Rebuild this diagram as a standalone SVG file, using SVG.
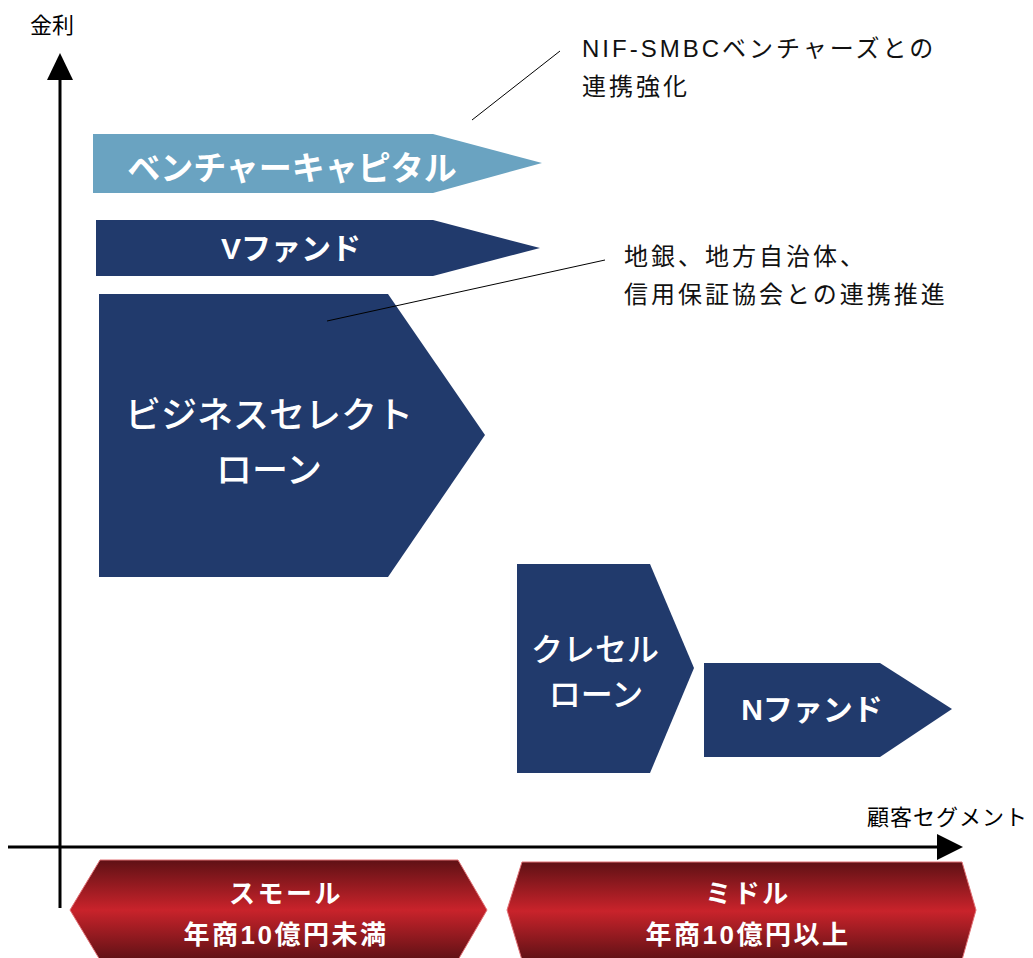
<svg xmlns="http://www.w3.org/2000/svg" width="1033" height="958" viewBox="0 0 1033 958">
<defs>
<linearGradient id="red" x1="0" y1="0" x2="0" y2="1">
<stop offset="0" stop-color="#5f1115"/>
<stop offset="0.5" stop-color="#c9232b"/>
<stop offset="1" stop-color="#5f1115"/>
</linearGradient>
<style>
.t{font-family:"Liberation Sans","Noto Sans CJK JP",sans-serif}
.lab{font-size:22px;fill:#000}
.note{font-size:24px;fill:#111;letter-spacing:3px}
.navy{fill:#213a6c}
.lb{fill:#6aa3c1}
.w{fill:#fff;text-anchor:middle}
.b{font-weight:bold}
.ax{stroke:#000;stroke-width:3;fill:none}
.call{stroke:#000;stroke-width:1;fill:none}
.hex{fill:url(#red);stroke:#e07075;stroke-width:1}
</style>
</defs>
<rect width="1033" height="958" fill="#fff"/>
<g id="axes">
<line class="ax" x1="60" y1="908" x2="60" y2="76"/>
<polygon points="60,53 73,80 47,80" fill="#000"/>
<line class="ax" x1="8" y1="847" x2="940" y2="847"/>
<polygon points="963,847 937,834 937,860" fill="#000"/>
<text class="t lab" x="30" y="33">金利</text>
<text class="t lab" x="867" y="825" style="letter-spacing:1px">顧客セグメント</text>
</g>
<g id="venture-capital">
<polygon class="lb" points="93,134 433,134 542,163 433,193 93,193"/>
<text class="t w b" x="292" y="180" font-size="33">ベンチャーキャピタル</text>
</g>
<g id="v-fund">
<polygon class="navy" points="96,220 433,220 540,248 433,276 96,276"/>
<text class="t w b" x="291" y="259" font-size="30">Vファンド</text>
</g>
<g id="business-select-loan">
<polygon class="navy" points="99,294 388,294 485,435 388,577 99,577"/>
<text class="t w" x="269" y="428" font-size="36" font-weight="500">ビジネスセレクト</text>
<text class="t w" x="269" y="483" font-size="36" font-weight="500">ローン</text>
</g>
<g id="cresel-loan">
<polygon class="navy" points="517,564 650,564 694,668 650,773 517,773"/>
<text class="t w" x="595" y="661" font-size="32" font-weight="500">クレセル</text>
<text class="t w" x="596" y="706" font-size="32" font-weight="500">ローン</text>
</g>
<g id="n-fund">
<polygon class="navy" points="704,663 880,663 952,709 880,757 704,757"/>
<text class="t w b" x="812" y="720" font-size="30">Nファンド</text>
</g>
<g id="note-nif">
<text class="t note" x="582" y="57">NIF-SMBCベンチャーズとの</text>
<text class="t note" x="582" y="95">連携強化</text>
</g>
<g id="note-local">
<text class="t note" x="624" y="265">地銀、地方自治体、</text>
<text class="t note" x="624" y="303">信用保証協会との連携推進</text>
</g>
<g id="small">
<polygon class="hex" points="100,860 458,860 487,910 458,960 100,960 70,910"/>
<text class="t w b" x="286" y="903" font-size="26" style="letter-spacing:2.5px">スモール</text>
<text class="t w b" x="286" y="944" font-size="26" style="letter-spacing:2.5px">年商10億円未満</text>
</g>
<g id="middle">
<polygon class="hex" points="522,862 962,862 976,910 962,960 522,960 507,910"/>
<text class="t w b" x="748" y="903" font-size="26" style="letter-spacing:2.5px">ミドル</text>
<text class="t w b" x="748" y="944" font-size="26" style="letter-spacing:2.5px">年商10億円以上</text>
</g>
<g id="connectors">
<line class="call" x1="472" y1="120" x2="560" y2="51"/>
<line class="call" x1="327" y1="321" x2="605" y2="260"/>
</g>
</svg>
